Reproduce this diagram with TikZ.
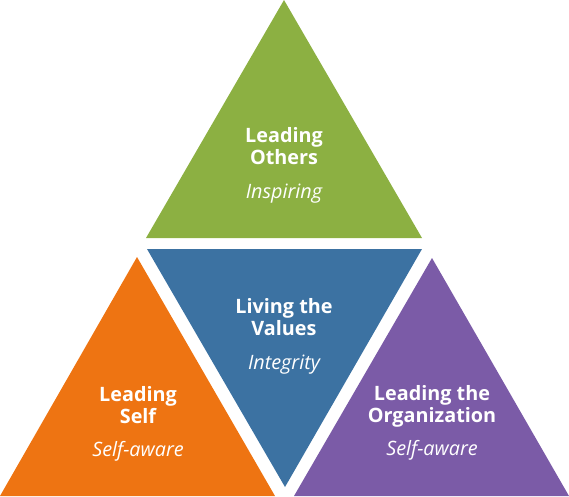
\documentclass[tikz,border=0pt]{standalone}
\usepackage{fontspec}
\setmainfont{Open Sans}
\usepackage{tikz}
\usetikzlibrary{positioning}
\definecolor{trigreen}{RGB}{140,176,66}
\definecolor{triblue}{RGB}{60,114,162}
\definecolor{triorange}{RGB}{238,116,18}
\definecolor{tripurple}{RGB}{123,91,167}

\begin{document}
\begin{tikzpicture}[x=1pt, y=-1pt,
    title/.style={anchor=base, align=center, text=white, inner sep=0pt,
        font=\fontsize{19.8}{22}\selectfont\bfseries},
    trait/.style={anchor=base, text=white, inner sep=0pt,
        font=\fontsize{19.8}{22}\selectfont\itshape}]
% Canvas (569 x 496)
\useasboundingbox (0,0) rectangle (569,496);

% Corners of the four triangles
\coordinate (gtop) at (284,0);
\coordinate (gright) at (422,238);
\coordinate (gleft) at (146,238);
\coordinate (bleft) at (147,249);
\coordinate (bright) at (422,249);
\coordinate (bbot) at (285,487);
\coordinate (otop) at (137,257);
\coordinate (oright) at (275,496);
\coordinate (oleft) at (0,496);
\coordinate (ptop) at (432,258);
\coordinate (pright) at (569,496);
\coordinate (pleft) at (294,496);

\fill[trigreen] (gtop) -- (gright) -- (gleft) -- cycle;
\fill[triblue] (bleft) -- (bright) -- (bbot) -- cycle;
\fill[triorange] (otop) -- (oright) -- (oleft) -- cycle;
\fill[tripurple] (ptop) -- (pright) -- (pleft) -- cycle;

% Labels (base = baseline of the last line)
\node[title] (others) at (284,164) {Leading\\Others};
\node[trait] (inspiring) at (284,198) {Inspiring};

\node[title] (values) at (284,335) {Living the\\Values};
\node[trait] (integrity) at (284,369) {Integrity};

\node[title] (self) at (138,423) {Leading\\Self};
\node[trait] (selfaware) at (138,456) {Self-aware};

\node[title] (org) at (432,422) {Leading the\\Organization};
\node[trait] (orgaware) at (432,455) {Self-aware};

\end{tikzpicture}
\end{document}
